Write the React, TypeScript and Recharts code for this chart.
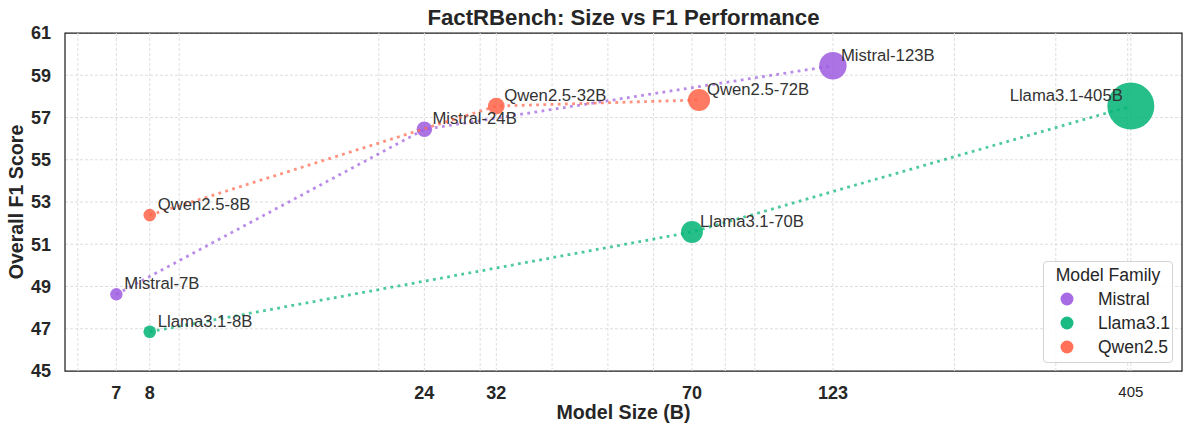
import React from 'react';
import {
  ScatterChart,
  Scatter,
  XAxis,
  YAxis,
  ZAxis,
  CartesianGrid,
  ReferenceLine,
  ReferenceArea,
  Legend,
  Label,
} from 'recharts';

const FONT = '"Liberation Sans", Arial, Helvetica, sans-serif';
const INK = '#262626';

// families and their colours
const families = ['Mistral', 'Llama3.1', 'Qwen2.5'];
const familyColors = ['#9d5be0', '#00b474', '#ff6347'];

// model sizes (B) and overall F1
const mistralSizes = [7, 24, 123];
const mistralF1 = [48.63, 56.44, 59.45];
const llamaSizes = [8, 70, 405];
const llamaF1 = [46.86, 51.58, 57.54];
const qwenSizes = [8, 32, 72];
const qwenF1 = [52.38, 57.54, 57.83];

const xTicks = [7, 8, 24, 32, 70, 123, 405];
const yTicks = [45, 47, 49, 51, 53, 55, 57, 59, 61];
// log grid: major ticks + matplotlib minor ticks
const xGrid = [6, 7, 8, 9, 20, 24, 30, 32, 40, 50, 60, 70, 80, 90, 123, 200, 300, 400, 405];
const labelsOnLeft = ['Llama3.1-405B'];

const buildPoints = (family: string, sizes: number[], scores: number[]) =>
  sizes.map((s, i) => ({ name: `${family}-${s}B`, size: s, f1: scores[i] }));

const series = [
  buildPoints('Mistral', mistralSizes, mistralF1),
  buildPoints('Llama3.1', llamaSizes, llamaF1),
  buildPoints('Qwen2.5', qwenSizes, qwenF1),
];

const PointLabel = (props: any) => {
  const { cx, cy, payload } = props;
  const left = labelsOnLeft.includes(payload.name);
  return (
    <text
      x={left ? cx - 8 : cx + 8}
      y={cy - 11}
      dy="0.36em"
      textAnchor={left ? 'end' : 'start'}
      fontSize={16.7}
      fontFamily={FONT}
      fill="#333"
    >
      {payload.name}
    </text>
  );
};

const XTick = (props: any) => {
  const { x, y, payload } = props;
  const plain = payload.value === 405;
  return (
    <text
      x={x}
      y={y}
      dy="0.71em"
      textAnchor="middle"
      fontSize={plain ? 15 : 18}
      fontWeight={plain ? 'normal' : 'bold'}
      fontFamily={FONT}
      fill={INK}
    >
      {payload.value}
    </text>
  );
};

const LegendBox = () => (
  <div
    style={{
      width: 130,
      height: 102,
      boxSizing: 'border-box',
      border: '1px solid #d4d4d4',
      borderRadius: 4,
      background: 'rgba(255,255,255,0.85)',
    }}
  >
    <svg width={128} height={100} style={{ display: 'block' }}>
      <text x={64} y={13} dy="0.36em" textAnchor="middle" fontSize={17.6} fontFamily={FONT} fill={INK}>
        Model Family
      </text>
      {families.map((f, i) => (
        <g key={f}>
          <circle cx={23} cy={37 + i * 24} r={6.5} fill={familyColors[i]} fillOpacity={0.9} />
          <text x={54} y={37 + i * 24} dy="0.36em" fontSize={17.5} fontFamily={FONT} fill={INK}>
            {f}
          </text>
        </g>
      ))}
    </svg>
  </div>
);

export default function App() {
  return (
    <div style={{ position: 'absolute', left: 0, top: 0, width: 1185, height: 426, background: '#fff' }}>
      <svg width={1185} height={34} style={{ position: 'absolute', left: 0, top: 0 }}>
        <text x={623.5} y={25} textAnchor="middle" fontSize={22.2} fontWeight="bold" fontFamily={FONT} fill={INK}>
          FactRBench: Size vs F1 Performance
        </text>
      </svg>
      <ScatterChart width={1185} height={426} margin={{ top: 33, right: 3, bottom: 0, left: 0 }}>
        <CartesianGrid vertical={false} stroke="#dedede" strokeDasharray="3 2" />
        {xGrid.map((g) => (
          <ReferenceLine key={g} x={g} stroke="#dedede" strokeDasharray="3 2" />
        ))}
        <XAxis
          type="number"
          dataKey="size"
          scale="log"
          domain={[5.7, 497]}
          allowDataOverflow
          ticks={xTicks}
          interval={0}
          tick={<XTick />}
          tickSize={0}
          tickMargin={15}
          axisLine={false}
          height={55}
        >
          <Label
            value="Model Size (B)"
            position="insideBottom"
            offset={7}
            style={{ fontSize: 19.6, fontWeight: 'bold', fontFamily: FONT, fill: INK }}
          />
        </XAxis>
        <YAxis
          type="number"
          dataKey="f1"
          domain={[45, 61]}
          ticks={yTicks}
          interval={0}
          tickSize={0}
          tickMargin={14}
          axisLine={false}
          width={65}
          tick={{ fontSize: 18, fontWeight: 'bold', fontFamily: FONT, fill: INK }}
        >
          <Label
            value="Overall F1 Score"
            angle={-90}
            position="insideLeft"
            offset={16}
            style={{ fontSize: 19.6, fontWeight: 'bold', fontFamily: FONT, fill: INK, textAnchor: 'middle' }}
          />
        </YAxis>
        <ZAxis type="number" dataKey="size" domain={[7, 405]} range={[121, 1735]} />
        <ReferenceArea x1={5.7} x2={497} y1={45} y2={61} fill="none" stroke="#222" strokeWidth={1.25} ifOverflow="visible" />
        {series.map((pts, i) => (
          <Scatter
            key={`pts-${families[i]}`}
            name={families[i]}
            data={pts}
            fill={familyColors[i]}
            fillOpacity={0.85}
            isAnimationActive={false}
          />
        ))}
        {series.map((pts, i) => (
          <Scatter
            key={`line-${families[i]}`}
            data={pts}
            line={{
              stroke: familyColors[i],
              strokeWidth: 2.8,
              strokeDasharray: '2.8 4.4',
              strokeOpacity: 0.7,
            }}
            lineType="joint"
            shape={<PointLabel />}
            legendType="none"
            isAnimationActive={false}
          />
        ))}
        <Legend
          layout="vertical"
          align="center"
          verticalAlign="middle"
          content={<LegendBox />}
          wrapperStyle={{ left: 1043, top: 261, width: 130, height: 102 }}
        />
      </ScatterChart>
    </div>
  );
}
